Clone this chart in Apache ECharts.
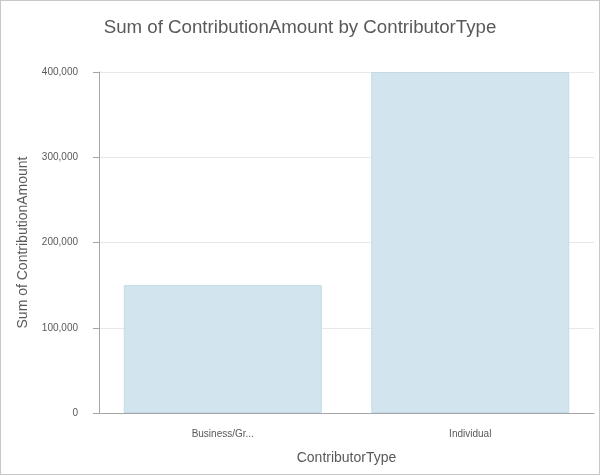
<!DOCTYPE html>
<html>
<head>
<meta charset="utf-8">
<script src="https://cdn.jsdelivr.net/npm/echarts@6/dist/echarts.min.js"></script>
<style>
html,body{margin:0;padding:0;background:#fff;}
#wrap{width:598px;height:473px;border:1px solid #c8c8c8;position:relative;}
#chart{width:600px;height:475px;position:absolute;left:-1px;top:-1px;}
</style>
</head>
<body>
<div id="wrap"><div id="chart"></div></div>
<script>
const categories = ['Business/Gr...', 'Individual'];
const values = [150000, 400000];
const chart = echarts.init(document.getElementById('chart'), null, {renderer: 'canvas'});
chart.setOption({
  animation: false,
  title: {
    text: 'Sum of ContributionAmount by ContributorType',
    left: 'center', top: 13,
    textStyle: {fontFamily: 'Liberation Sans, Arial, sans-serif', fontSize: 18.7, fontWeight: 'normal', color: '#595959'}
  },
  grid: {left: 99, right: 6, top: 72, bottom: 62},
  xAxis: {
    type: 'category',
    data: categories,
    name: 'ContributorType',
    nameLocation: 'middle',
    nameGap: 38,
    nameTextStyle: {fontFamily: 'Liberation Sans, Arial, sans-serif', fontSize: 14, color: '#595959'},
    axisLine: {lineStyle: {color: '#a6a6a6'}},
    axisTick: {alignWithLabel: true, length: 5, lineStyle: {color: '#a6a6a6'}},
    axisLabel: {fontFamily: 'Liberation Sans, Arial, sans-serif', fontSize: 10, color: '#595959', margin: 16}
  },
  yAxis: {
    type: 'value',
    min: 0, max: 400000, interval: 100000,
    name: 'Sum of ContributionAmount',
    nameLocation: 'middle',
    nameGap: 69,
    nameTextStyle: {fontFamily: 'Liberation Sans, Arial, sans-serif', fontSize: 14, color: '#595959'},
    axisLine: {show: true, lineStyle: {color: '#a6a6a6'}},
    axisTick: {show: true, length: 6, lineStyle: {color: '#a6a6a6'}},
    splitLine: {lineStyle: {color: '#e8e8e8'}},
    axisLabel: {
      fontFamily: 'Liberation Sans, Arial, sans-serif', fontSize: 10, color: '#595959', margin: 21,
      formatter: v => v.toLocaleString('en-US')
    }
  },
  series: [{
    type: 'bar',
    data: values,
    barWidth: '80%',
    itemStyle: {color: '#d2e5ef', borderColor: '#c3dbe8', borderWidth: 1}
  }]
});
</script>
</body>
</html>
